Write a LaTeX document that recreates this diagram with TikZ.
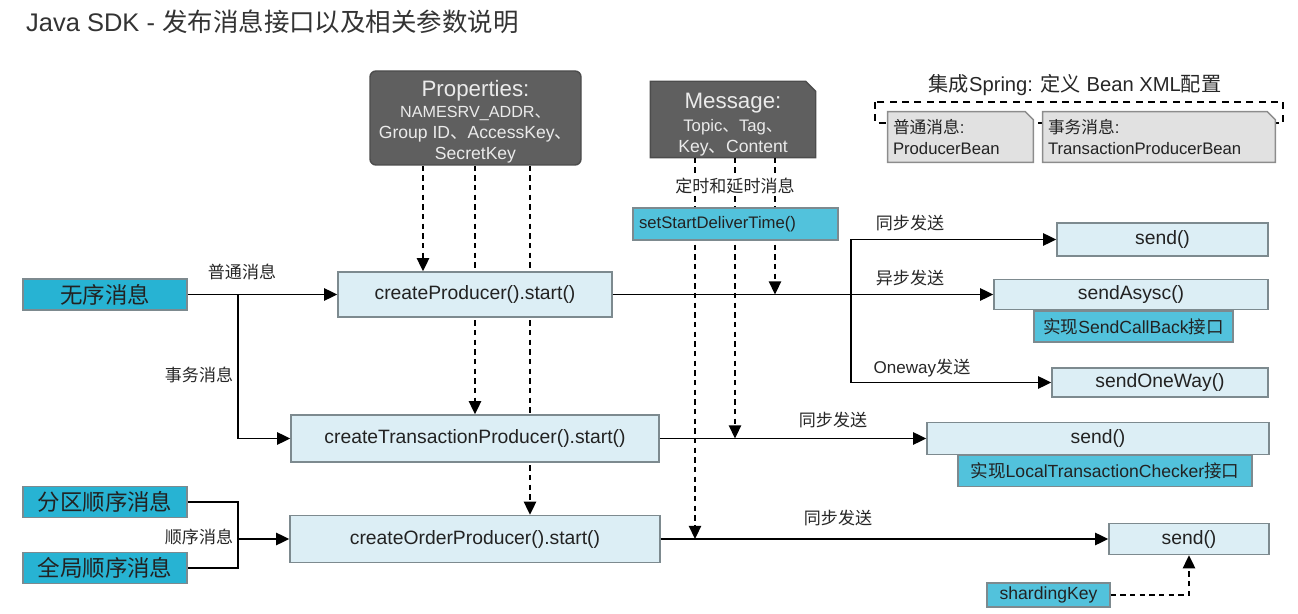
\documentclass[tikz,border=0pt]{standalone}
\usepackage{fontspec}
\setmainfont{Liberation Sans}
\newfontfamily\cjk{Noto Sans CJK SC}
\usetikzlibrary{calc}
\usetikzlibrary{arrows.meta}
\usetikzlibrary{backgrounds}

\definecolor{boxblue}{HTML}{DCEEF5}
\definecolor{boxcyan}{HTML}{27B3D3}
\definecolor{tagcyan}{HTML}{52C2DC}
\definecolor{boxedge}{HTML}{7D8A8F}
\definecolor{darkfill}{HTML}{5F5F5F}
\definecolor{springfill}{HTML}{E1E1E1}
\definecolor{inktext}{HTML}{222222}

\newdimen\px \px=0.02cm

\tikzset{
  fn/.style={draw=boxedge, fill=boxblue, line width=0.8pt, text=inktext, font=\fontsize{11}{13}\selectfont, inner sep=0pt},
  kind/.style={draw=boxedge, fill=boxcyan, line width=0.8pt, text=inktext, font=\fontsize{12.8}{15}\selectfont, inner sep=0pt, minimum width=164\px, minimum height=31\px},
  tag/.style={draw=boxedge, fill=tagcyan, line width=0.8pt, text=inktext, font=\fontsize{10}{12}\selectfont, inner sep=0pt},
  param/.style={draw=black!70, fill=darkfill, line width=0.8pt, text=white!92!black, align=center, inner sep=0pt},
  beantext/.style={text=inktext, align=left, inner xsep=5\px, inner ysep=0pt, font=\fontsize{9.5}{11.5}\selectfont},
  beanedge/.style={draw=black!45, fill=springfill, line width=0.8pt},
  lbl/.style={text=black!85, font=\fontsize{9.7}{12}\selectfont, inner sep=1pt},
  flow/.style={line width=1pt, -{Triangle[width=7pt,length=7.5pt]}},
  feed/.style={flow, dash pattern=on 3pt off 2.5pt}
}

\begin{document}
\begin{tikzpicture}[x=0.02cm, y=-0.02cm]
\useasboundingbox (0,0) rectangle (1298,614);
\node[anchor=west, text=black!80, font=\fontsize{14.5}{17}\selectfont] (title) at (20,22) {Java SDK - {\cjk 发布消息接口以及相关参数说明}};

\node[param, rounded corners=6\px, minimum width=211\px, minimum height=94\px] (props) at (475.5,118) {{\fontsize{12.7}{15}\selectfont \rule{0pt}{13.5pt}Properties:}\\ \fontsize{9.2}{11.3}\selectfont NAMESRV\_ADDR{\cjk 、}\\ Group ID{\cjk 、}AccessKey{\cjk 、}\\ SecretKey};
\node[param, draw=none, fill=none, minimum width=164\px, minimum height=75\px] (msg) at (733,119.5) {{\fontsize{12.7}{15}\selectfont \rule{0pt}{14.7pt}Message:}\\[1.5pt] \fontsize{9.5}{11.2}\selectfont Topic{\cjk 、}Tag{\cjk 、}\\ Key{\cjk 、}Content};
\node[lbl, fill=white] (timing) at (735,186) {\cjk 定时和延时消息};
\node[tag, text width=193\px, inner xsep=6\px, align=left, minimum height=32\px, font=\fontsize{9.5}{11}\selectfont] (delay) at (735.5,224) {setStartDeliverTime()};

\node[lbl, font=\fontsize{11.5}{14}\selectfont] (springtitle) at (1075,85) {{\cjk 集成}Spring: {\cjk 定义} Bean XML{\cjk 配置}};
\node[beantext, text width=135\px, minimum height=50\px] (pbean) at (960.5,137) {{\cjk 普通消息}:\\ ProducerBean};
\node[beantext, text width=222\px, minimum height=50\px] (tbean) at (1159,137) {{\cjk 事务消息}:\\ TransactionProducerBean};

\node[kind] (wuxu) at (105,294.5) {\cjk 无序消息};
\node[kind] (fenqu) at (105,502) {\cjk 分区顺序消息};
\node[kind] (quanju) at (105,568) {\cjk 全局顺序消息};

\node[fn, minimum width=274\px, minimum height=45\px] (cp) at (475,294.5) {createProducer().start()};
\node[fn, minimum width=368\px, minimum height=47\px] (ctp) at (475,438.5) {createTransactionProducer().start()};
\node[fn, minimum width=370\px, minimum height=47\px] (cop) at (475,539) {createOrderProducer().start()};

\node[fn, minimum width=211\px, minimum height=33\px] (send1) at (1162.5,239.5) {send()};
\node[fn, minimum width=274\px, minimum height=30\px] (async) at (1131,294.5) {sendAsysc()};
\node[tag, minimum width=199\px, minimum height=31\px] (callback) at (1133.5,326.5) {{\cjk 实现}SendCallBack{\cjk 接口}};
\node[fn, minimum width=216\px, minimum height=29\px] (oneway) at (1160,382.5) {sendOneWay()};
\node[fn, minimum width=342\px, minimum height=32\px] (send2) at (1098,438.5) {send()};
\node[tag, minimum width=294\px, minimum height=31\px] (checker) at (1105,471) {{\cjk 实现}LocalTransactionChecker{\cjk 接口}};
\node[fn, minimum width=160\px, minimum height=31\px] (send3) at (1189,539) {send()};
\node[tag, minimum width=123\px, minimum height=24\px] (shard) at (1048.5,595) {shardingKey};

\node[lbl] (lplain) at (242,272) {\cjk 普通消息};
\node[lbl] (ltrans) at (199,375) {\cjk 事务消息};
\node[lbl] (lorder) at (199,537) {\cjk 顺序消息};
\node[lbl] (lsync) at (910,223) {\cjk 同步发送};
\node[lbl] (lasync) at (910,278) {\cjk 异步发送};
\node[lbl] (loneway) at (922,368) {Oneway{\cjk 发送}};
\node[lbl] (ltsync) at (833,420) {\cjk 同步发送};
\node[lbl] (losync) at (838,518) {\cjk 同步发送};

\begin{scope}[on background layer]
\draw[line width=0.9pt, dash pattern=on 4pt off 3pt] (875,102) rectangle (1283,123);
\filldraw[beanedge] (pbean.south west) -- (pbean.north west) -- ([xshift=-8\px]pbean.north east) -- ([yshift=-8\px]pbean.north east) -- (pbean.south east) -- cycle;
\filldraw[beanedge] (tbean.south west) -- (tbean.north west) -- ([xshift=-8\px]tbean.north east) -- ([yshift=-8\px]tbean.north east) -- (tbean.south east) -- cycle;
\filldraw[draw=black!70, fill=darkfill, line width=0.8pt] (msg.south west) -- (msg.north west) -- ([xshift=-10\px]msg.north east) -- ([yshift=-10\px]msg.north east) -- (msg.south east) -- cycle;
\coordinate (pa) at ($(props.south)+(-52.5,0)$);
\coordinate (pb) at ($(props.south)+(-0.5,0)$);
\coordinate (pc) at ($(props.south)+(54.5,0)$);
\coordinate (ma) at ($(msg.south)+(-38,0)$);
\coordinate (mb) at ($(msg.south)+(2,0)$);
\coordinate (mc) at ($(msg.south)+(42,0)$);
\draw[feed] (pa) -- (pa |- cp.north);
\draw[feed] (pb) -- (pb |- ctp.north);
\draw[feed] (pc) -- (pc |- cop.north);
\draw[feed] (ma) -- (ma |- cop.east);
\draw[feed] (mb) -- (mb |- ctp.east);
\draw[feed] (mc) -- (mc |- cp.east);
\end{scope}

\coordinate (fork) at (238,294.5);
\coordinate (join) at (238,539);
\coordinate (spread) at (851,294.5);
\draw[flow] (wuxu) -- (cp);
\draw[flow] (fork) |- (ctp);
\draw[line width=1pt] (fenqu) -| (join) |- (quanju);
\draw[flow] (join) -- (cop);
\draw[flow] (cp) -- (async);
\draw[flow] (spread) |- (send1);
\draw[flow] (spread) |- (oneway);
\draw[flow] (ctp) -- (send2);
\draw[flow] (cop) -- (send3);
\draw[feed] (shard) -| (send3);
\end{tikzpicture}
\end{document}
